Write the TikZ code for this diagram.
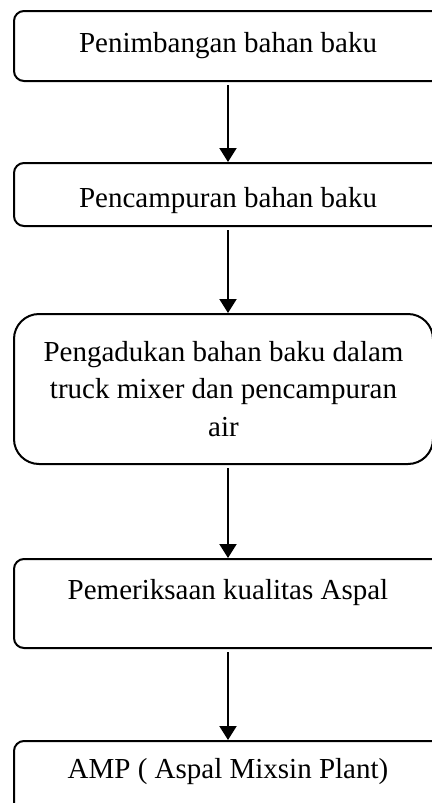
\documentclass[tikz,border=0pt]{standalone}
\usepackage{fontspec}
\setmainfont{Liberation Serif}
\usetikzlibrary{arrows.meta,positioning}

\begin{document}
\begin{tikzpicture}[->,>={Triangle[width=17pt,length=14pt]},shorten <=3pt,
                    line width=2pt,node distance=80pt,
                    proses/.style={draw,rectangle,rounded corners=10pt,
                      minimum width=428pt,inner sep=0pt,align=center,
                      font=\fontsize{29}{37.5}\selectfont}]

  \useasboundingbox (0,0) rectangle (431pt,-803pt);

  \node[proses,minimum height=70pt,anchor=north west] (A) at (13pt,-10pt)
        {Penimbangan bahan baku};
  \node[proses,minimum height=63pt,text height=33pt] (B) [below=80pt of A]
        {Pencampuran bahan baku};
  \node[proses,minimum height=150pt,minimum width=419pt,rounded corners=25pt]
        (C) [below right=86pt and 0pt of B.south west]
        {Pengadukan bahan baku dalam\\ truck mixer dan pencampuran\\ air};
  \node[proses,minimum height=89pt,text depth=29pt]
        (D) [below right=93pt and 0pt of C.south west]
        {Pemeriksaan kualitas Aspal};
  \node[proses,minimum height=80pt,text depth=26pt] (E) [below=91pt of D]
        {AMP ( Aspal Mixsin Plant)};

  \path (A.south)           edge (B.north)
        (B.south)           edge (B.south |- C.north)
        (D.north |- C.south) edge (D.north)
        (D.south)           edge (E.north);

\end{tikzpicture}
\end{document}
